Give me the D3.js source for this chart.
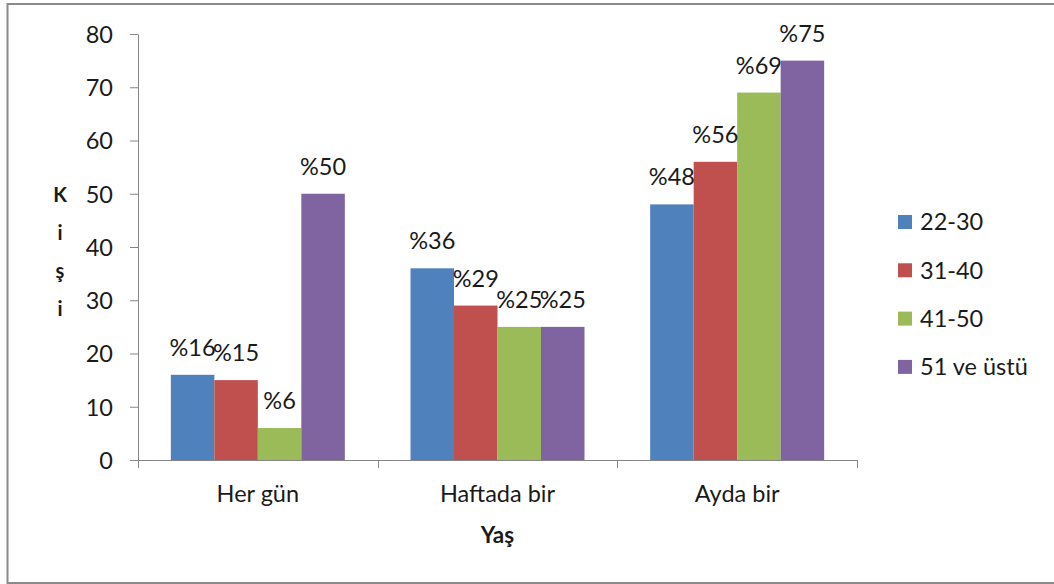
<!DOCTYPE html>
<html>
<head>
<meta charset="utf-8">
<script src="https://cdn.jsdelivr.net/npm/d3@7"></script>
<style>
  html, body { margin: 0; padding: 0; background: #fff; }
  svg { display: block; font-family: Lato, "Open Sans", sans-serif; }
</style>
</head>
<body>
<svg id="chart" width="1054" height="584"></svg>
<script>
// Frequency groups and age brackets
const categories = ["Her gün", "Haftada bir", "Ayda bir"];
const seriesNames = ["22-30", "31-40", "41-50", "51 ve üstü"];
const seriesColors = ["#4F81BD", "#C0504D", "#9BBB59", "#8064A2"];
// Values per age bracket, one entry per category
const s22_30 = [16, 36, 48];
const s31_40 = [15, 29, 56];
const s41_50 = [6, 25, 69];
const s51up = [50, 25, 75];
const yTicks = [0, 10, 20, 30, 40, 50, 60, 70, 80];
const yTitle = ["K", "i", "ş", "i"];
const xTitle = "Yaş";

const seriesValues = [s22_30, s31_40, s41_50, s51up];

const svg = d3.select("#chart");
const textColor = "#1a1a1a";
const axisColor = "#868686";

// outer chart frame
svg.append("rect")
  .attr("x", 7.5).attr("y", 4).attr("width", 1100).attr("height", 579)
  .attr("fill", "#fff").attr("stroke", "#8a8a8a").attr("stroke-width", 2);

const plot = { left: 138, right: 857, top: 34, bottom: 460 };

const x = d3.scaleBand().domain(categories).range([plot.left, plot.right]).padding(0);
const xInner = d3.scaleBand().domain(seriesNames).range([0, x.bandwidth()])
  .paddingInner(0).paddingOuter(0.755);
const y = d3.scaleLinear().domain([0, 80]).range([plot.bottom, plot.top]);

// y axis
const yAxis = svg.append("g")
  .attr("transform", `translate(${plot.left},0)`)
  .call(d3.axisLeft(y).tickValues(yTicks).tickSize(8).tickPadding(17).tickSizeOuter(0));
yAxis.select(".domain").attr("stroke", axisColor);
yAxis.selectAll(".tick line").attr("stroke", axisColor);
yAxis.selectAll(".tick text")
  .attr("fill", textColor).style("font-size", "23.5px").style("font-family", "Lato")
  .attr("dy", "0.36em");

// bars
const groups = svg.append("g").selectAll("g")
  .data(categories)
  .join("g")
  .attr("transform", d => `translate(${x(d)},0)`);

groups.selectAll("rect")
  .data((c, ci) => seriesNames.map((s, si) => ({ s, si, v: seriesValues[si][ci] })))
  .join("rect")
  .attr("x", d => xInner(d.s))
  .attr("width", xInner.bandwidth())
  .attr("y", d => y(d.v))
  .attr("height", d => y(0) - y(d.v))
  .attr("fill", d => seriesColors[d.si]);

groups.selectAll("text.val")
  .data((c, ci) => seriesNames.map((s, si) => ({ s, si, v: seriesValues[si][ci] })))
  .join("text")
  .attr("class", "val")
  .attr("x", d => xInner(d.s) + xInner.bandwidth() / 2)
  .attr("y", d => y(d.v) - 19)
  .attr("text-anchor", "middle")
  .attr("fill", textColor)
  .style("font-size", "23.5px")
  .text(d => "%" + d.v);

// x axis line and category separators
const xAxis = svg.append("g");
xAxis.append("line")
  .attr("x1", plot.left).attr("x2", plot.right)
  .attr("y1", y(0) + 0.5).attr("y2", y(0) + 0.5)
  .attr("stroke", axisColor);
const bounds = categories.map(c => x(c)).concat([x(categories[categories.length - 1]) + x.bandwidth()]);
xAxis.selectAll("line.sep")
  .data(bounds)
  .join("line")
  .attr("class", "sep")
  .attr("x1", d => Math.round(d) + 0.5).attr("x2", d => Math.round(d) + 0.5)
  .attr("y1", y(0)).attr("y2", y(0) + 8)
  .attr("stroke", axisColor);
xAxis.selectAll("text")
  .data(categories)
  .join("text")
  .attr("x", d => x(d) + x.bandwidth() / 2)
  .attr("y", 502)
  .attr("text-anchor", "middle")
  .attr("fill", textColor)
  .style("font-size", "23.5px")
  .text(d => d);

// axis titles
svg.append("text")
  .attr("x", (plot.left + plot.right) / 2)
  .attr("y", 543)
  .attr("text-anchor", "middle")
  .attr("fill", textColor)
  .style("font-size", "22.5px").style("font-weight", "bold")
  .text(xTitle);

svg.append("text")
  .attr("text-anchor", "middle")
  .attr("fill", textColor)
  .style("font-size", "20px").style("font-weight", "bold")
  .selectAll("tspan")
  .data(yTitle)
  .join("tspan")
  .attr("x", 60)
  .attr("y", (d, i) => 202 + i * 38)
  .text(d => d);

// legend
const legend = svg.append("g").attr("transform", "translate(898,222)");
const rows = legend.selectAll("g")
  .data(seriesNames)
  .join("g")
  .attr("transform", (d, i) => `translate(0,${i * 48.3})`);
rows.append("rect")
  .attr("x", 0).attr("y", -7).attr("width", 14).attr("height", 14)
  .attr("fill", (d, i) => seriesColors[i]);
rows.append("text")
  .attr("x", 22).attr("y", 0).attr("dy", "0.36em")
  .attr("fill", textColor)
  .style("font-size", "23.5px")
  .text(d => d);
</script>
</body>
</html>
